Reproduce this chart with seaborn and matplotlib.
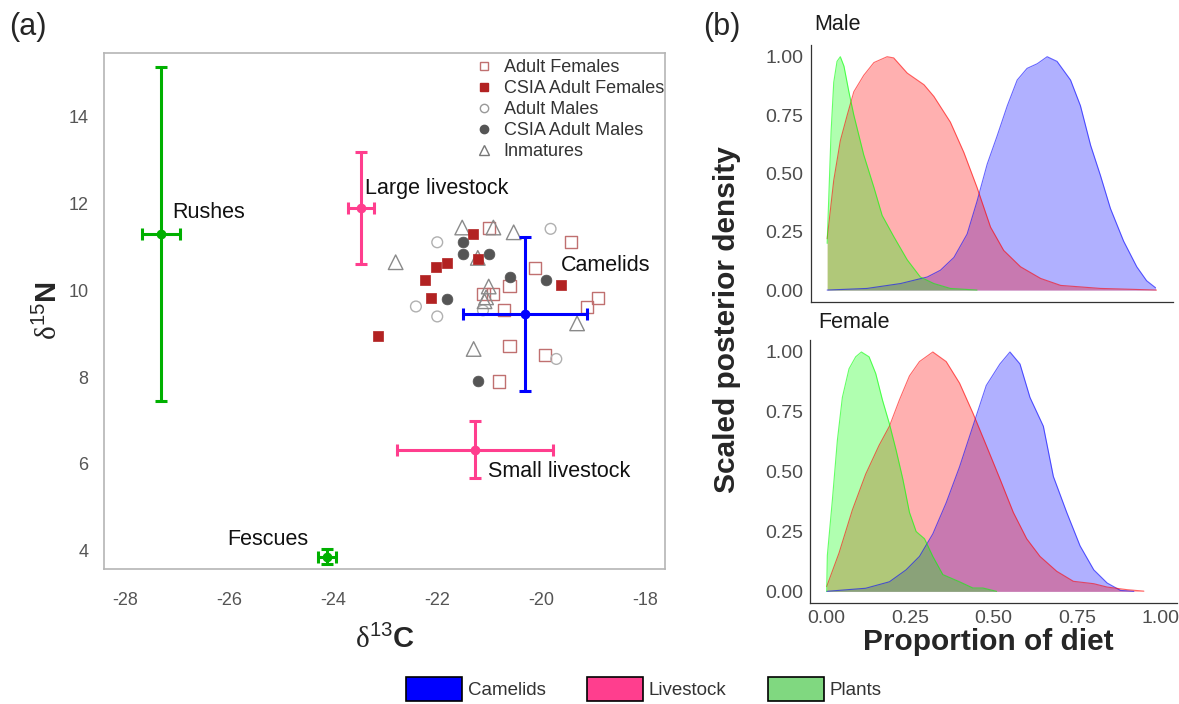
import numpy as np
import matplotlib
matplotlib.use('Agg')
import matplotlib.pyplot as plt
from matplotlib.lines import Line2D
from matplotlib.patches import Patch
import seaborn as sns

# ---- panel (a) data: isotope values of individuals ----
adult_fem_x = [-21.01, -19.42, -20.12, -20.61, -21.11, -20.92, -20.72, -18.91, -19.12, -20.61, -19.92, -20.82]
adult_fem_y = [11.43, 11.11, 10.52, 10.11, 9.92, 9.92, 9.54, 9.82, 9.61, 8.71, 8.51, 7.90]
csia_fem_x = [-21.32, -21.82, -22.02, -22.23, -22.12, -21.22, -19.61, -23.13]
csia_fem_y = [11.31, 10.63, 10.53, 10.24, 9.82, 10.72, 10.13, 8.94]
adult_male_x = [-22.00, -19.82, -22.41, -22.00, -19.71, -21.12]
adult_male_y = [11.11, 11.42, 9.63, 9.40, 8.42, 9.54]
csia_male_x = [-21.51, -21.51, -21.01, -20.61, -19.90, -21.82, -21.22]
csia_male_y = [11.11, 10.84, 10.84, 10.30, 10.23, 9.80, 7.92]
immature_x = [-21.52, -20.92, -20.53, -22.80, -21.22, -21.01, -21.06, -21.09, -19.31, -21.30]
immature_y = [11.45, 11.45, 11.34, 10.65, 10.75, 10.09, 9.84, 9.75, 9.24, 8.65]

# food sources: mean and sd
src_names = ['Rushes', 'Large livestock', 'Camelids', 'Small livestock', 'Fescues']
src_x = [-27.31, -23.46, -20.31, -21.28, -24.12]
src_y = [11.30, 11.91, 9.46, 6.33, 3.86]
src_xsd = [0.37, 0.25, 1.19, 1.50, 0.18]
src_ysd = [3.84, 1.29, 1.77, 0.66, 0.17]
src_group = ['Plants', 'Livestock', 'Camelids', 'Livestock', 'Plants']

# ---- panel (b) data: scaled posterior densities ----
male_plants_x = [0.0, 0.005, 0.012, 0.02, 0.03, 0.04, 0.051, 0.066, 0.081, 0.111, 0.142, 0.167, 0.202, 0.243, 0.283, 0.324, 0.374, 0.455]
male_plants_y = [0.20, 0.40, 0.68, 0.89, 0.98, 1.0, 0.96, 0.85, 0.75, 0.58, 0.44, 0.32, 0.23, 0.13, 0.056, 0.028, 0.007, 0.0]
male_live_x = [0.0, 0.02, 0.04, 0.061, 0.081, 0.111, 0.142, 0.182, 0.202, 0.243, 0.294, 0.324, 0.374, 0.415, 0.455, 0.496, 0.536, 0.587, 0.648, 0.709, 0.83, 0.93, 1.0]
male_live_y = [0.22, 0.47, 0.64, 0.75, 0.85, 0.92, 0.975, 1.0, 0.995, 0.93, 0.88, 0.83, 0.72, 0.59, 0.44, 0.27, 0.17, 0.10, 0.05, 0.02, 0.007, 0.003, 0.0]
male_cam_x = [0.0, 0.121, 0.223, 0.304, 0.344, 0.385, 0.425, 0.455, 0.486, 0.516, 0.547, 0.577, 0.607, 0.638, 0.668, 0.698, 0.739, 0.769, 0.80, 0.83, 0.86, 0.90, 0.94, 0.97, 0.997]
male_cam_y = [0.0, 0.007, 0.028, 0.056, 0.085, 0.14, 0.24, 0.38, 0.54, 0.66, 0.79, 0.90, 0.95, 0.97, 1.0, 0.98, 0.90, 0.79, 0.62, 0.49, 0.35, 0.21, 0.10, 0.04, 0.01]

fem_plants_x = [0.0, 0.002, 0.017, 0.032, 0.047, 0.067, 0.087, 0.104, 0.127, 0.147, 0.167, 0.188, 0.208, 0.228, 0.248, 0.268, 0.293, 0.318, 0.348, 0.398, 0.438, 0.468, 0.509]
fem_plants_y = [0.0, 0.15, 0.38, 0.63, 0.81, 0.93, 0.98, 1.0, 0.98, 0.91, 0.80, 0.70, 0.59, 0.47, 0.33, 0.25, 0.22, 0.146, 0.07, 0.04, 0.014, 0.014, 0.0]
fem_live_x = [0.0, 0.037, 0.077, 0.117, 0.157, 0.188, 0.218, 0.248, 0.278, 0.318, 0.358, 0.398, 0.438, 0.478, 0.519, 0.559, 0.599, 0.639, 0.689, 0.739, 0.80, 0.84, 0.90, 0.95]
fem_live_y = [0.02, 0.16, 0.34, 0.49, 0.61, 0.69, 0.80, 0.90, 0.96, 1.0, 0.96, 0.87, 0.745, 0.61, 0.47, 0.33, 0.22, 0.146, 0.084, 0.042, 0.032, 0.018, 0.007, 0.001]
fem_cam_x = [0.0, 0.117, 0.188, 0.238, 0.278, 0.318, 0.358, 0.398, 0.438, 0.478, 0.519, 0.549, 0.579, 0.609, 0.649, 0.679, 0.719, 0.759, 0.80, 0.84, 0.88, 0.92]
fem_cam_y = [0.0, 0.013, 0.04, 0.09, 0.146, 0.24, 0.37, 0.52, 0.69, 0.86, 0.95, 1.0, 0.95, 0.81, 0.69, 0.48, 0.33, 0.19, 0.09, 0.035, 0.004, 0.0]

legend_groups = ['Camelids', 'Livestock', 'Plants']

group_col = {'Camelids': '#0000ff', 'Livestock': '#ff3e8e', 'Plants': '#00b000'}
legend_col = {'Camelids': '#0000ff', 'Livestock': '#ff3e8e', 'Plants': '#80d880'}

sns.set_style('white')
plt.rcParams['font.family'] = ['Liberation Sans', 'DejaVu Sans']
plt.rcParams['axes.unicode_minus'] = False
plt.rcParams['mathtext.fontset'] = 'custom'
plt.rcParams['mathtext.rm'] = 'Liberation Serif'
plt.rcParams['mathtext.sf'] = 'Liberation Sans'
plt.rcParams['mathtext.bf'] = 'Liberation Sans:bold'

fig = plt.figure(figsize=(11.79, 7.04), dpi=100)

# ================= panel (a) =================
ax = fig.add_axes([0.0882, 0.1913, 0.4758, 0.7338])

# individuals
sns.scatterplot(x=adult_fem_x, y=adult_fem_y, ax=ax, marker='s', s=75, facecolors='none',
                edgecolors='#c07070', linewidth=1.0, zorder=3)
sns.scatterplot(x=adult_male_x, y=adult_male_y, ax=ax, marker='o', s=60, facecolors='none',
                edgecolors='#b0b0b0', linewidth=1.0, zorder=3)
sns.scatterplot(x=immature_x, y=immature_y, ax=ax, marker='^', s=110, facecolors='none',
                edgecolors='#8a8a8a', linewidth=1.0, zorder=3)
sns.scatterplot(x=csia_fem_x, y=csia_fem_y, ax=ax, marker='s', s=60, color='#b22222',
                edgecolor='#b22222', linewidth=0.5, zorder=4)
sns.scatterplot(x=csia_male_x, y=csia_male_y, ax=ax, marker='o', s=60, color='#555555',
                edgecolor='#555555', linewidth=0.5, zorder=4)

# sources with error bars
for i in range(len(src_names)):
    c = group_col[src_group[i]]
    ax.errorbar(src_x[i], src_y[i], xerr=src_xsd[i], yerr=src_ysd[i], fmt='o', color=c,
                ms=6, elinewidth=2.2, capsize=4, capthick=2.2, zorder=5)

lab_kw = dict(fontsize=15.5, va='center', color='#111111')
ax.text(-27.10, 11.79, 'Rushes', ha='left', **lab_kw)
ax.text(-23.39, 12.34, 'Large livestock', ha='left', **lab_kw)
ax.text(-19.62, 10.57, 'Camelids', ha='left', **lab_kw)
ax.text(-21.03, 5.82, 'Small livestock', ha='left', **lab_kw)
ax.text(-24.47, 4.25, 'Fescues', ha='right', **lab_kw)

ax.set_xlim(-28.41, -17.62)
ax.set_ylim(3.57, 15.48)
ax.set_xticks([-28, -26, -24, -22, -20, -18])
ax.set_yticks([4, 6, 8, 10, 12, 14])
ax.tick_params(axis='both', direction='out', length=5, width=1, color='#aaaaaa',
               labelcolor='#555555', labelsize=13, pad=6)
ax.tick_params(axis='x', pad=11)
for sp in ax.spines.values():
    sp.set_color('#b5b5b5')
    sp.set_linewidth(1.2)

ax.set_xlabel(r'$\mathrm{\delta}^{\mathsf{13}}\mathbf{C}$', fontsize=21, labelpad=12)
ax.set_ylabel(r'$\mathrm{\delta}^{\mathsf{15}}\mathbf{N}$', fontsize=21, labelpad=4)

leg_handles = [
    Line2D([], [], ls='', marker='s', ms=6, mfc='none', mec='#c07070', mew=1.0),
    Line2D([], [], ls='', marker='s', ms=6, mfc='#b22222', mec='#b22222'),
    Line2D([], [], ls='', marker='o', ms=6, mfc='none', mec='#999999', mew=1.0),
    Line2D([], [], ls='', marker='o', ms=6, mfc='#555555', mec='#555555'),
    Line2D([], [], ls='', marker='^', ms=7, mfc='none', mec='#777777', mew=1.0),
]
leg_labels = ['Adult Females', 'CSIA Adult Females', 'Adult Males', 'CSIA Adult Males', 'Inmatures']
ax.legend(leg_handles, leg_labels, loc='upper left', bbox_to_anchor=(0.645, 1.008),
          frameon=False, fontsize=13, handlelength=0.8, handletextpad=0.7,
          labelspacing=0.22, borderpad=0.1, labelcolor='#333333')

fig.text(0.008, 0.962, '(a)', fontsize=22, va='center', ha='left')

# ================= panel (b) =================
ax_m = fig.add_axes([0.6876, 0.5714, 0.3073, 0.3646])
ax_f = fig.add_axes([0.6870, 0.1430, 0.3115, 0.3740])

# drawing order matters for the overlap colours: camelids, livestock, plants
fill_col = {'Camelids': '#0000ff', 'Livestock': '#ff0000', 'Plants': '#00ff00'}
panels = [
    (ax_m, [('Camelids', male_cam_x, male_cam_y),
            ('Livestock', male_live_x, male_live_y),
            ('Plants', male_plants_x, male_plants_y)]),
    (ax_f, [('Camelids', fem_cam_x, fem_cam_y),
            ('Livestock', fem_live_x, fem_live_y),
            ('Plants', fem_plants_x, fem_plants_y)]),
]
for a, curves in panels:
    for g, xs, ys in curves:
        a.fill_between(xs, 0, ys, color=fill_col[g], alpha=0.31, linewidth=0)
        sns.lineplot(x=xs, y=ys, ax=a, color=fill_col[g], linewidth=0.8, alpha=0.6)
    a.set_xlim(-0.05, 1.05)
    a.set_ylim(-0.05, 1.05)
    a.set_xticks([0, 0.25, 0.5, 0.75, 1.0])
    a.set_yticks([0, 0.25, 0.5, 0.75, 1.0])
    a.set_yticklabels(['0.00', '0.25', '0.50', '0.75', '1.00'])
    a.set_xlabel('')
    a.set_ylabel('')
    for sp in ['top', 'right']:
        a.spines[sp].set_visible(False)
    for sp in ['left', 'bottom']:
        a.spines[sp].set_color('#333333')
        a.spines[sp].set_linewidth(0.9)
    a.tick_params(axis='both', direction='out', length=3, width=0.8, color='#333333',
                  labelcolor='#4d4d4d', labelsize=14, pad=2)

ax_m.set_xticklabels([])
ax_m.tick_params(axis='x', color='#dddddd')
ax_f.set_xticklabels(['0.00', '0.25', '0.50', '0.75', '1.00'])

fig.text(0.691, 0.9645, 'Male', fontsize=15.5, va='center', ha='left', color='#1a1a1a')
fig.text(0.694, 0.5426, 'Female', fontsize=15.5, va='center', ha='left', color='#1a1a1a')
fig.text(0.617, 0.5455, 'Scaled posterior density', fontsize=21.5, fontweight='bold',
         rotation=90, va='center', ha='center')
fig.text(0.838, 0.0885, 'Proportion of diet', fontsize=21.5, fontweight='bold',
         va='center', ha='center')
fig.text(0.596, 0.962, '(b)', fontsize=22, va='center', ha='left')

# ---- shared legend at bottom ----
patches = [Patch(facecolor=legend_col[g], edgecolor='black', linewidth=1.2) for g in legend_groups]
fig.legend(patches, legend_groups, loc='lower center', bbox_to_anchor=(0.546, -0.02), ncol=3,
           frameon=False, fontsize=13.5, handlelength=3.0, handleheight=1.6,
           handletextpad=0.3, columnspacing=2.2, labelcolor='#333333')

fig.savefig('out.png', dpi=100)
